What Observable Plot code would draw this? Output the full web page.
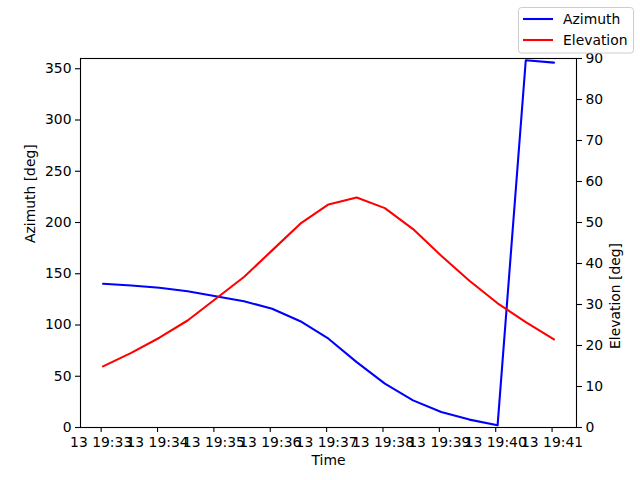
<!DOCTYPE html>
<html>
<head>
<meta charset="utf-8">
<script src="https://cdn.jsdelivr.net/npm/d3@7"></script>
<script src="https://cdn.jsdelivr.net/npm/@observablehq/plot@0.6"></script>
<style>
  body { margin: 0; background: #fff; font-family: "DejaVu Sans", sans-serif; }
  #wrap { position: relative; width: 640px; height: 480px; }
  #legend { position: absolute; left: 0; top: 0; }
</style>
</head>
<body>
<div id="wrap"></div>
<script>
// ---- data ----
const day = "2023-01-13";
const times = ["19:33:02","19:33:32","19:34:02","19:34:32","19:35:02","19:35:32",
               "19:36:02","19:36:32","19:37:02","19:37:32","19:38:02","19:38:32",
               "19:39:02","19:39:32","19:40:02","19:40:32","19:41:02"];
const azimuth = [140.2,138.5,136.3,133.0,128.1,123.2,115.8,103.7,86.6,63.8,42.8,26.5,15.1,7.7,2.1,358.3,356.0];
const elevation = [14.9,18.2,21.9,26.1,31.4,36.7,43.2,49.7,54.4,56.1,53.5,48.4,41.9,35.8,30.3,25.7,21.5];
const xTickTimes = ["19:33","19:34","19:35","19:36","19:37","19:38","19:39","19:40","19:41"];
const azTicks = [0,50,100,150,200,250,300,350];
const elTicks = [0,10,20,30,40,50,60,70,80,90];
const azMax = 360, elMax = 90;
const seriesNames = ["Azimuth","Elevation"];
const seriesColors = ["#0000ff","#ff0000"];

// ---- build ----
const parse = t => new Date(`${day}T${t}${t.length === 5 ? ":00" : ""}Z`);
const data = times.map((t, i) => ({time: parse(t), azimuth: azimuth[i], elevation: elevation[i]}));
const k = azMax / elMax; // map elevation scale onto the shared y scale
const [t0, t1] = d3.extent(data, d => d.time);
const pad = (t1 - t0) * 0.05;
const fmt = d3.utcFormat("%d %H:%M");

const chart = Plot.plot({
  width: 640, height: 480,
  marginLeft: 80, marginRight: 64, marginTop: 58, marginBottom: 53,
  style: {fontFamily: "DejaVu Sans, sans-serif", fontSize: "13.9px", color: "black", background: "white", overflow: "visible"},
  x: {type: "utc", domain: [new Date(+t0 - pad), new Date(+t1 + pad)]},
  y: {domain: [0, azMax]},
  marks: [
    Plot.line(data, {x: "time", y: "azimuth", stroke: seriesColors[0], strokeWidth: 2.08}),
    Plot.line(data, {x: "time", y: d => d.elevation * k, stroke: seriesColors[1], strokeWidth: 2.08}),
    Plot.frame({stroke: "black", strokeWidth: 1.1}),
    Plot.axisX({ticks: xTickTimes.map(parse), tickFormat: fmt, tickSize: 5, tickPadding: 5, label: null, strokeWidth: 1.1}),
    Plot.axisY({anchor: "left", ticks: azTicks, tickSize: 5, tickPadding: 4, label: null, strokeWidth: 1.1}),
    Plot.axisY({anchor: "right", ticks: elTicks.map(v => v * k), tickFormat: v => String(Math.round(v / k)), tickSize: 5, tickPadding: 4, label: null, strokeWidth: 1.1}),
    Plot.text(["Time"], {text: d => d, frameAnchor: "bottom", dy: 37, fill: "black"}),
    Plot.text(["Azimuth [deg]"], {text: d => d, frameAnchor: "left", rotate: -90, dx: -50, fill: "black"}),
    Plot.text(["Elevation [deg]"], {text: d => d, frameAnchor: "right", rotate: -90, dx: 39, fill: "black"})
  ]
});
const wrap = document.getElementById("wrap");
wrap.appendChild(chart);

// ---- legend (figure legend, top right) ----
const ns = "http://www.w3.org/2000/svg";
const lg = document.createElementNS(ns, "svg");
lg.setAttribute("id", "legend");
lg.setAttribute("width", 640);
lg.setAttribute("height", 60);
const box = document.createElementNS(ns, "rect");
box.setAttribute("x", 518.5); box.setAttribute("y", 7.5);
box.setAttribute("width", 115); box.setAttribute("height", 45.5);
box.setAttribute("rx", 3); box.setAttribute("fill", "rgba(255,255,255,0.8)");
box.setAttribute("stroke", "#cccccc"); box.setAttribute("stroke-width", 1);
lg.appendChild(box);
seriesNames.forEach((name, i) => {
  const y = 19 + i * 21;
  const ln = document.createElementNS(ns, "line");
  ln.setAttribute("x1", 523); ln.setAttribute("x2", 553);
  ln.setAttribute("y1", y); ln.setAttribute("y2", y);
  ln.setAttribute("stroke", seriesColors[i]); ln.setAttribute("stroke-width", 2.08);
  lg.appendChild(ln);
  const tx = document.createElementNS(ns, "text");
  tx.setAttribute("x", 563); tx.setAttribute("y", y);
  tx.setAttribute("dy", "0.35em");
  tx.setAttribute("font-family", "DejaVu Sans, sans-serif");
  tx.setAttribute("font-size", "13.9px");
  tx.setAttribute("fill", "black");
  tx.textContent = name;
  lg.appendChild(tx);
});
wrap.appendChild(lg);
</script>
</body>
</html>
